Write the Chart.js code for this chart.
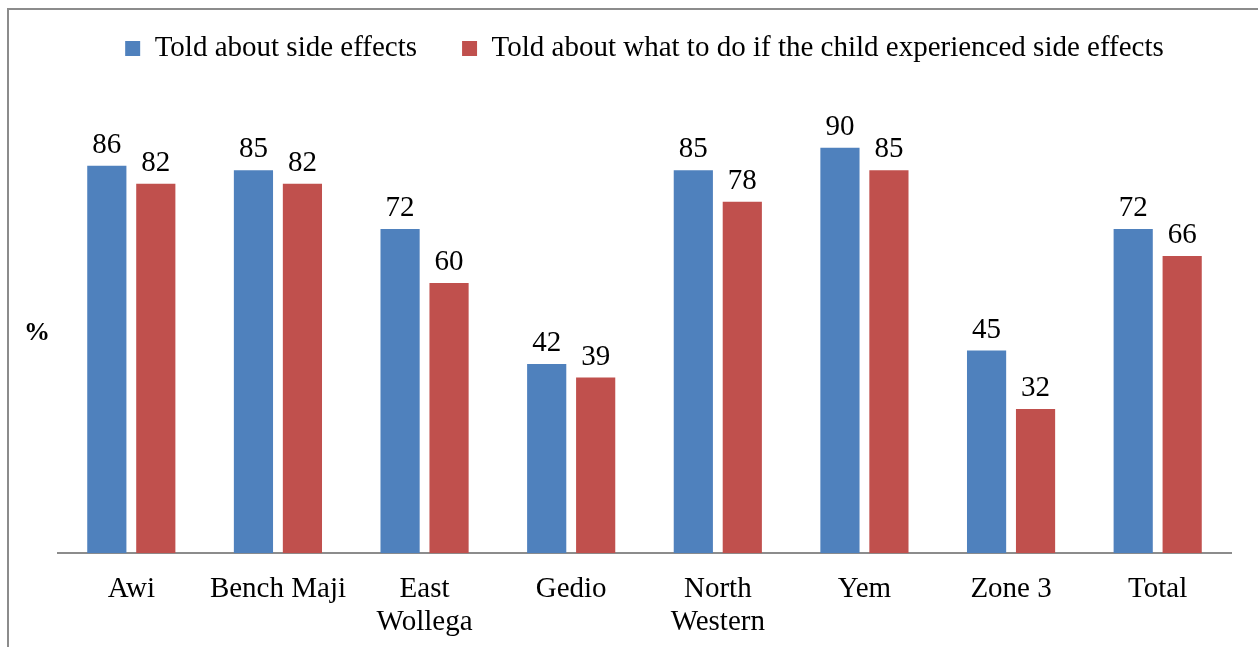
<!DOCTYPE html>
<html>
<head>
<meta charset="utf-8">
<script src="https://cdn.jsdelivr.net/npm/chart.js@4.4.0/dist/chart.umd.min.js"></script>
<style>
  html, body { margin: 0; padding: 0; background: #fff; overflow: hidden; }
  #frame { position: absolute; left: 7px; top: 8px; width: 1300px; height: 700px; border: 2px solid #8c8c8c; box-sizing: border-box; }
  #wrap { position: absolute; left: 0; top: 0; width: 1258px; height: 667px; }
</style>
</head>
<body>
<div id="frame"></div>
<div id="wrap"><canvas id="chart"></canvas></div>
<script>
const regions = ["Awi", "Bench Maji", ["East", "Wollega"], "Gedio", ["North", "Western"], "Yem", "Zone 3", "Total"];
const toldSideEffects = [86, 85, 72, 42, 85, 90, 45, 72];
const toldWhatToDo = [82, 82, 60, 39, 78, 85, 32, 66];
const seriesNames = ["Told about side effects", "Told about what to do if the child experienced side effects"];

const serif = "'Liberation Serif', 'Times New Roman', serif";

// numbers above each bar
const barLabels = {
  id: 'barLabels',
  afterDatasetsDraw(chart) {
    const ctx = chart.ctx;
    ctx.save();
    ctx.font = "29px " + serif;
    ctx.fillStyle = "#000";
    ctx.textAlign = "center";
    ctx.textBaseline = "bottom";
    chart.data.datasets.forEach((ds, i) => {
      chart.getDatasetMeta(i).data.forEach((bar, j) => {
        ctx.fillText(ds.data[j], bar.x, bar.y - 6);
      });
    });
    ctx.restore();
  }
};

// the "%" marker on the left
const percentMark = {
  id: 'percentMark',
  afterDraw(chart) {
    const ctx = chart.ctx;
    ctx.save();
    ctx.font = "bold 26px " + serif;
    ctx.fillStyle = "#000";
    ctx.textAlign = "center";
    ctx.textBaseline = "middle";
    ctx.fillText("%", 37, 333);
    ctx.restore();
  }
};

const ctx = document.getElementById("chart").getContext("2d");
new Chart(ctx, {
  type: "bar",
  data: {
    labels: regions,
    datasets: [{
      label: seriesNames[0],
      data: toldSideEffects,
      backgroundColor: "#4F81BD"
    }, {
      label: seriesNames[1],
      data: toldWhatToDo,
      backgroundColor: "#C0504D"
    }]
  },
  options: {
    responsive: true,
    maintainAspectRatio: false,
    animation: false,
    layout: { padding: { left: 58, right: 27, top: -11, bottom: 9 } },
    categoryPercentage: 0.668,
    barPercentage: 0.8,
    plugins: {
      legend: {
        position: "top",
        labels: {
          boxWidth: 15,
          boxHeight: 15,
          padding: 45,
          color: "#000",
          font: { family: serif, size: 29 }
        }
      },
      tooltip: { enabled: false }
    },
    scales: {
      x: {
        grid: { display: false, drawTicks: false },
        border: { color: "#8c8c8c", width: 2 },
        ticks: {
          color: "#000",
          padding: 19,
          maxRotation: 0,
          autoSkip: false,
          font: { family: serif, size: 29, lineHeight: 1.15 }
        }
      },
      y: {
        display: false,
        min: 0,
        max: 106.6
      }
    }
  },
  plugins: [barLabels, percentMark]
});
</script>
</body>
</html>
